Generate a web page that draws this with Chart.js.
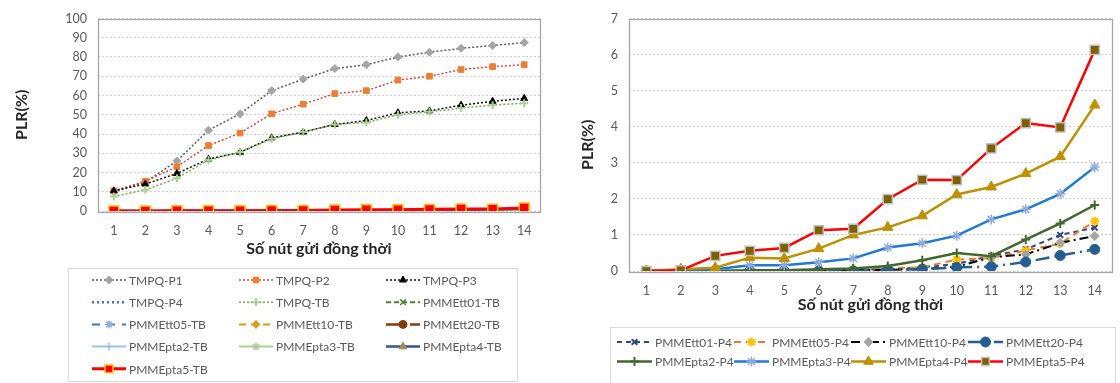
<!DOCTYPE html>
<html>
<head>
<meta charset="utf-8">
<script src="https://cdn.jsdelivr.net/npm/chart.js@4.4.0/dist/chart.umd.min.js"></script>
<style>
    html, body { margin: 0; padding: 0; background: #fff; }
    #wrap { position: relative; width: 1120px; height: 383px; overflow: hidden; }
    .pane { position: absolute; top: 0; height: 383px; }
    #paneLeft { left: 0; width: 550px; }
    #paneRight { left: 555px; width: 565px; }
</style>
</head>
<body>
<div id="wrap">
    <div class="pane" id="paneLeft"><canvas id="chartLeft" width="550" height="383"></canvas></div>
    <div class="pane" id="paneRight"><canvas id="chartRight" width="565" height="383"></canvas></div>
</div>
<script>
/*global Chart*/
var categories = ['1', '2', '3', '4', '5', '6', '7', '8', '9', '10', '11', '12', '13', '14'];

// left chart: average PLR per protocol
var tmpqP1 = [10, 15, 26, 42, 50.5, 62.5, 68.5, 74, 76, 80, 82.5, 84.5, 86, 87.5];
var tmpqP2 = [10.5, 15.5, 23, 34, 40.5, 50.5, 55.5, 61, 62.5, 68, 70, 73.5, 75, 76];
var tmpqP3 = [10.5, 14, 19.5, 27, 30.5, 38, 41, 45, 47, 51, 52, 55, 57, 58.5];
var tmpqP4 = [0, 0, 0, 0.1, 0.1, 0.2, 0.2, 0.3, 0.4, 0.5, 0.5, 0.7, 0.8, 1.0];
var tmpqTB = [7.5, 11, 17, 26.5, 30.5, 37.5, 41, 45, 46, 50, 51.5, 53.5, 55, 56];
var tt01TB = [0, 0, 0, 0, 0, 0, 0, 0, 0.02, 0.05, 0.1, 0.15, 0.25, 0.3];
var tt05TB = [0, 0, 0, 0, 0, 0, 0, 0.02, 0.03, 0.08, 0.09, 0.14, 0.19, 0.35];
var tt10TB = [0, 0, 0, 0, 0, 0, 0, 0, 0.01, 0.03, 0.1, 0.12, 0.2, 0.25];
var tt20TB = [0, 0, 0, 0, 0, 0, 0, 0, 0, 0.02, 0.03, 0.06, 0.11, 0.15];
var pta2TB = [0, 0, 0, 0, 0, 0.01, 0.02, 0.04, 0.08, 0.12, 0.1, 0.22, 0.33, 0.46];
var pta3TB = [0, 0, 0.01, 0.04, 0.04, 0.06, 0.09, 0.16, 0.19, 0.25, 0.36, 0.43, 0.54, 0.72];
var pta4TB = [0, 0.01, 0.02, 0.09, 0.09, 0.16, 0.25, 0.3, 0.38, 0.53, 0.58, 0.68, 0.79, 1.15];
var pta5TB = [0, 0, 0.1, 0.14, 0.16, 0.3, 0.3, 0.5, 0.63, 0.63, 0.85, 1.03, 1.0, 1.53];

// right chart: PLR of priority P4
var tt01P4 = [0, 0, 0, 0, 0, 0.02, 0.03, 0.05, 0.1, 0.2, 0.42, 0.6, 1.0, 1.2];
var tt05P4 = [0, 0.02, 0, 0, 0.02, 0.03, 0.05, 0.08, 0.1, 0.32, 0.36, 0.57, 0.76, 1.38];
var tt10P4 = [0, 0, 0, 0, 0, 0.02, 0.03, 0.03, 0.05, 0.12, 0.38, 0.46, 0.78, 0.97];
var tt20P4 = [0, 0, 0, 0, 0, 0, 0, 0.03, 0.05, 0.1, 0.12, 0.25, 0.43, 0.6];
var pta2P4 = [0, 0, 0, 0.02, 0.02, 0.05, 0.07, 0.14, 0.3, 0.5, 0.41, 0.87, 1.32, 1.83];
var pta3P4 = [0, 0.02, 0.05, 0.16, 0.16, 0.24, 0.35, 0.65, 0.77, 0.98, 1.43, 1.71, 2.14, 2.88];
var pta4P4 = [0, 0.05, 0.09, 0.37, 0.35, 0.62, 1.0, 1.21, 1.53, 2.12, 2.33, 2.7, 3.17, 4.6];
var pta5P4 = [0, 0.02, 0.42, 0.56, 0.64, 1.13, 1.17, 1.99, 2.53, 2.52, 3.4, 4.1, 3.98, 6.13];

var yTicksLeft = [0, 100, 10];
var yTicksRight = [0, 7, 1];

(function (Chart) {
    "use strict";

    var FONT = 'Lato, "Noto Sans", sans-serif';
    var TEXT = '#595959';

    // style: [line, width, dash, pointStyle, radius, fill, edge, edgeWidth]
    var build = function (rows) {
        var n = rows.length;
        return rows.map(function (r, i) {
            var s = r[2];
            return {
                label: r[0],
                data: r[1],
                borderColor: s[0],
                borderWidth: s[1],
                borderDash: s[2],
                pointStyle: s[3],
                pointRadius: s[4],
                pointBackgroundColor: s[5],
                pointBorderColor: s[6],
                pointBorderWidth: s[7],
                pointHoverRadius: s[4],
                tension: 0,
                fill: false,
                order: n - i
            };
        });
    };

    var framePlugin = {
        id: 'frame',
        beforeDatasetsDraw: function (chart) {
            var a = chart.chartArea, ctx = chart.ctx;
            ctx.save();
            ctx.strokeStyle = '#a6a6a6';
            ctx.lineWidth = 1.3;
            ctx.strokeRect(Math.round(a.left) + 0.5, Math.round(a.top) + 0.5,
                Math.round(a.right - a.left), Math.round(a.bottom - a.top));
            ctx.restore();
        }
    };

    var gridLegend = {
        id: 'gridLegend',
        afterDraw: function (chart, args, o) {
            var ctx = chart.ctx;
            ctx.save();
            ctx.strokeStyle = '#d9d9d9';
            ctx.lineWidth = 1;
            ctx.strokeRect(o.box[0] + 0.5, o.box[1] + 0.5, o.box[2], o.box[3]);
            ctx.font = o.font;
            ctx.textBaseline = 'middle';
            chart.data.datasets.forEach(function (ds, i) {
                var x = o.x0 + (i % o.cols) * o.colWidth,
                    y = o.y0 + Math.floor(i / o.cols) * o.rowHeight;
                ctx.save();
                ctx.strokeStyle = ds.borderColor;
                ctx.lineWidth = ds.borderWidth;
                ctx.setLineDash(ds.borderDash || []);
                ctx.beginPath();
                ctx.moveTo(x, y);
                ctx.lineTo(x + o.sample, y);
                ctx.stroke();
                ctx.setLineDash([]);
                ctx.fillStyle = ds.pointBackgroundColor;
                ctx.strokeStyle = ds.pointBorderColor;
                ctx.lineWidth = ds.pointBorderWidth;
                Chart.helpers.drawPoint(ctx, {
                    pointStyle: ds.pointStyle,
                    radius: Math.min(ds.pointRadius, 5.5),
                    borderWidth: ds.pointBorderWidth,
                    rotation: 0
                }, x + o.sample / 2, y);
                ctx.restore();
                ctx.fillStyle = TEXT;
                ctx.fillText(ds.label, x + o.sample + 3, y + 1);
            });
            ctx.restore();
        }
    };

    var makeOptions = function (cfg) {
        return {
            responsive: false,
            animation: false,
            devicePixelRatio: 1,
            layout: {padding: cfg.padding},
            plugins: {
                legend: {display: false},
                tooltip: {enabled: false},
                gridLegend: cfg.legend
            },
            scales: {
                x: {
                    offset: true,
                    grid: {display: false, drawTicks: false},
                    border: {display: false},
                    ticks: {color: TEXT, font: {family: FONT, size: 12.5}, padding: cfg.xTickPad, maxRotation: 0, autoSkip: false},
                    title: {
                        display: true,
                        text: 'Số nút gửi đồng thời',
                        color: '#262626',
                        font: {family: FONT, size: 16, weight: 'bold'},
                        padding: {top: 0, bottom: cfg.xTitlePad}
                    },
                    afterFit: function (s) { s.height = cfg.xHeight; }
                },
                y: {
                    min: cfg.yTicks[0],
                    max: cfg.yTicks[1],
                    grid: {color: '#d0d0d0', drawTicks: false, lineWidth: 1},
                    border: {display: false, dash: [2, 2]},
                    ticks: {stepSize: cfg.yTicks[2], color: TEXT, font: {family: FONT, size: 12.5}, padding: 11},
                    title: {
                        display: true,
                        text: 'PLR(%)',
                        color: '#262626',
                        font: {family: FONT, size: 16, weight: 'bold'},
                        padding: {top: cfg.yTitlePad, bottom: 0}
                    },
                    afterFit: function (s) { s.width = cfg.yWidth; }
                }
            }
        };
    };

    var leftSets = build([
        ['TMPQ-P1', tmpqP1, ['#5a5a5a', 1.5, [2, 2], 'rectRot', 4, '#a5a5a5', '#a5a5a5', 1]],
        ['TMPQ-P2', tmpqP2, ['#e0443a', 1.5, [2, 2], 'rect', 4, '#ed7d31', '#ed7d31', 1]],
        ['TMPQ-P3', tmpqP3, ['#111111', 1.5, [2, 2], 'triangle', 4, '#000000', '#000000', 1]],
        ['TMPQ-P4', tmpqP4, ['#4472c4', 2.5, [2, 3], 'circle', 0, '#4472c4', '#4472c4', 0]],
        ['TMPQ-TB', tmpqTB, ['#70ad47', 1.5, [2, 2], 'cross', 4, '#a9d18e', '#a9d18e', 2]],
        ['PMMEtt01-TB', tt01TB, ['#548235', 2, [5, 3], 'crossRot', 4, '#548235', '#548235', 1.5]],
        ['PMMEtt05-TB', tt05TB, ['#4472c4', 2, [8, 7], 'star', 4, '#8faadc', '#8faadc', 1.5]],
        ['PMMEtt10-TB', tt10TB, ['#d4a017', 2, [7, 5], 'rectRot', 4, '#d4a017', '#d4a017', 1]],
        ['PMMEtt20-TB', tt20TB, ['#843c0c', 2.5, [14, 4, 2, 4], 'circle', 4, '#843c0c', '#843c0c', 1]],
        ['PMMEpta2-TB', pta2TB, ['#9dc3e6', 2, [], 'cross', 4, '#9dc3e6', '#9dc3e6', 1.5]],
        ['PMMEpta3-TB', pta3TB, ['#a9d18e', 2, [], 'star', 4, '#a9d18e', '#a9d18e', 1.5]],
        ['PMMEpta4-TB', pta4TB, ['#2f5597', 2.5, [], 'triangle', 4.5, '#a08c5a', '#a08c5a', 1]],
        ['PMMEpta5-TB', pta5TB, ['#ff0000', 3, [], 'rect', 7, '#ff0000', '#ffc000', 1.5]]
    ]);

    var rightSets = build([
        ['PMMEtt01-P4', tt01P4, ['#2f4b7c', 2, [5, 4], 'crossRot', 4, '#2f4b7c', '#2f4b7c', 2]],
        ['PMMEtt05-P4', tt05P4, ['#ed7d31', 2, [7, 5], 'star', 4.5, '#ffc000', '#ffc000', 2]],
        ['PMMEtt10-P4', tt10P4, ['#000000', 2, [9, 4, 2, 4], 'rectRot', 4.5, '#a5a5a5', '#a5a5a5', 1]],
        ['PMMEtt20-P4', tt20P4, ['#255e91', 2.5, [14, 5, 2, 5], 'circle', 5, '#255e91', '#255e91', 1]],
        ['PMMEpta2-P4', pta2P4, ['#43682b', 2.5, [], 'cross', 4.5, '#43682b', '#43682b', 2]],
        ['PMMEpta3-P4', pta3P4, ['#1f7ad2', 2.5, [], 'star', 5, '#8faadc', '#8faadc', 1.5]],
        ['PMMEpta4-P4', pta4P4, ['#bf9000', 2.5, [], 'triangle', 6, '#bf9000', '#bf9000', 1]],
        ['PMMEpta5-P4', pta5P4, ['#ff0000', 2.5, [], 'rect', 6.5, '#7f6000', '#bfbfbf', 1.5]]
    ]);

    new Chart(document.getElementById('chartLeft'), {
        type: 'line',
        data: {labels: categories, datasets: leftSets},
        options: makeOptions({
            padding: {top: 15, right: 10, bottom: 115, left: 0},
            yTicks: yTicksLeft,
            yWidth: 98,
            yTitlePad: 12,
            xHeight: 57,
            xTickPad: 12,
            xTitlePad: 10,
            legend: {
                box: [68, 268, 449, 113],
                x0: 92, y0: 280, cols: 3, colWidth: 147, rowHeight: 22.2,
                sample: 34, font: '12px ' + FONT
            }
        }),
        plugins: [framePlugin, gridLegend]
    });

    new Chart(document.getElementById('chartRight'), {
        type: 'line',
        data: {labels: categories, datasets: rightSets},
        options: makeOptions({
            padding: {top: 15, right: 3, bottom: 56, left: 0},
            yTicks: yTicksRight,
            yWidth: 74,
            yTitlePad: 23,
            xHeight: 56,
            xTickPad: 12,
            xTitlePad: 13,
            legend: {
                box: [55, 327, 505, 60],
                x0: 62, y0: 342, cols: 4, colWidth: 117, rowHeight: 19.5,
                sample: 35, font: '12px ' + FONT
            }
        }),
        plugins: [framePlugin, gridLegend]
    });
}(Chart));
</script>
</body>
</html>
